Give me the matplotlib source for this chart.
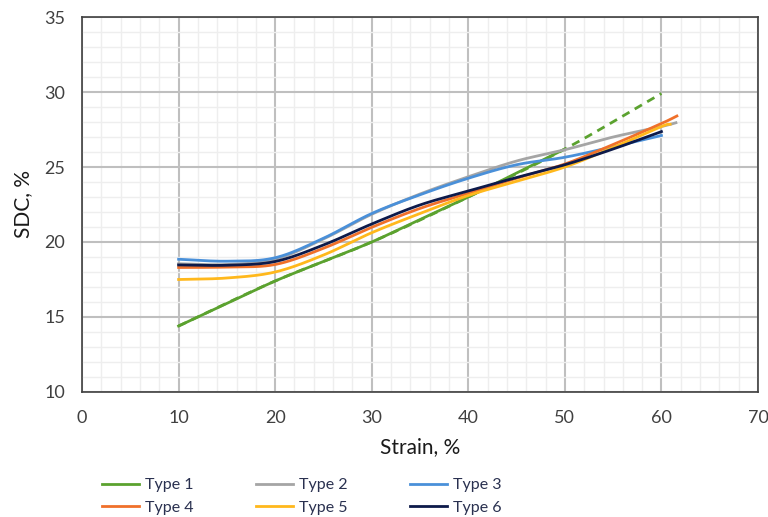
import numpy as np
import matplotlib
matplotlib.use("Agg")
import matplotlib.pyplot as plt
from matplotlib.ticker import MultipleLocator

plt.rcParams['font.family'] = ['Lato', 'DejaVu Sans']

# ---- data ----
x_std = [10, 15, 20, 25, 30, 35, 40, 45, 50, 55, 60]

type1_x = [10, 15, 20, 25, 30, 35, 40, 45, 50]
type1_y = [14.4, 15.9, 17.4, 18.7, 20.0, 21.5, 23.0, 24.6, 26.2]
trend1_x = [10, 20, 30, 40, 50, 60]
trend1_y = [14.4, 17.4, 20.0, 23.0, 26.2, 29.9]

type2_x = [10, 15, 20, 25, 30, 35, 40, 45, 50, 55, 60, 61.5]
type2_y = [18.55, 18.5, 18.85, 20.2, 21.85, 23.2, 24.35, 25.4, 26.15, 27.0, 27.7, 27.95]

type3_x = x_std
type3_y = [18.85, 18.72, 18.95, 20.25, 21.9, 23.15, 24.25, 25.15, 25.65, 26.35, 27.1]

type4_x = [10, 15, 20, 25, 30, 35, 40, 45, 50, 55, 60, 61.6]
type4_y = [18.3, 18.33, 18.5, 19.58, 20.98, 22.24, 23.25, 24.25, 25.2, 26.5, 27.9, 28.4]

type5_x = [10, 15, 20, 25, 30, 35, 40, 45, 50, 55, 60, 60.9]
type5_y = [17.5, 17.6, 18.0, 19.13, 20.62, 21.9, 23.1, 24.05, 25.0, 26.3, 27.7, 27.85]

type6_x = x_std
type6_y = [18.47, 18.45, 18.7, 19.8, 21.2, 22.47, 23.4, 24.3, 25.15, 26.2, 27.36]

labels = ["Type 1", "Type 2", "Type 3", "Type 4", "Type 5", "Type 6"]
colors = ["#5BA22F", "#A5A5A5", "#4A90D9", "#F0702A", "#FFB81C", "#0D1A4A"]


def smooth(xs, ys, n=20):
    """Catmull-Rom style smoothing of a polyline (like Excel's smoothed line)."""
    xs = np.asarray(xs, float)
    ys = np.asarray(ys, float)
    P = np.column_stack([xs, ys])
    P = np.vstack([P[0] - (P[1] - P[0]), P, P[-1] + (P[-1] - P[-2])])
    out = []
    t = np.linspace(0, 1, n, endpoint=False)
    for i in range(1, len(P) - 2):
        p0, p1, p2, p3 = P[i - 1], P[i], P[i + 1], P[i + 2]
        m1 = (p2 - p0) / 2
        m2 = (p3 - p1) / 2
        h00 = 2 * t**3 - 3 * t**2 + 1
        h10 = t**3 - 2 * t**2 + t
        h01 = -2 * t**3 + 3 * t**2
        h11 = t**3 - t**2
        seg = (h00[:, None] * p1 + h10[:, None] * m1 +
               h01[:, None] * p2 + h11[:, None] * m2)
        out.append(seg)
    out.append(P[-2][None, :])
    out = np.vstack(out)
    return out[:, 0], out[:, 1]


fig = plt.figure(figsize=(7.68, 5.17), dpi=100)
ax = fig.add_axes([0.1068, 0.2418, 0.8802, 0.7253])

series = [(type1_x, type1_y), (type2_x, type2_y), (type3_x, type3_y),
          (type4_x, type4_y), (type5_x, type5_y), (type6_x, type6_y)]

# trend line for Type 1
tx, ty = smooth(trend1_x, trend1_y)
ax.plot(tx, ty, color=colors[0], lw=2, ls=(0, (3, 2.2)), zorder=3)

handles = []
for i in range(6):
    sx, sy = smooth(*series[i])
    h, = ax.plot(sx, sy, color=colors[i], lw=2, label=labels[i], zorder=4)
    handles.append(h)

ax.set_xlim(0, 70)
ax.set_ylim(10, 35)
ax.xaxis.set_major_locator(MultipleLocator(10))
ax.xaxis.set_minor_locator(MultipleLocator(2))
ax.yaxis.set_major_locator(MultipleLocator(5))
ax.yaxis.set_minor_locator(MultipleLocator(1))
ax.grid(which='minor', color='#EEEEEE', lw=1.0, zorder=0)
ax.grid(which='major', color='#BFBFBF', lw=1.5, zorder=1)
ax.set_axisbelow(True)
ax.tick_params(which='both', length=0, labelsize=13, labelcolor='#404040')
ax.tick_params(axis='x', pad=13)
ax.tick_params(axis='y', pad=12)
for s in ax.spines.values():
    s.set_color('#404040')
    s.set_linewidth(1.2)

ax.set_xlabel("Strain, %", fontsize=15, color='#1a1a1a', labelpad=8)
ax.set_ylabel("SDC, %", fontsize=15, color='#1a1a1a', labelpad=8)

# row-major legend order: row 1 = Type 1..3, row 2 = Type 4..6
leg_order = [0, 3, 1, 4, 2, 5]
leg = fig.legend([handles[i] for i in leg_order], [labels[i] for i in leg_order],
                 ncol=3, loc='upper left',
                 bbox_to_anchor=(0.133, 0.075), bbox_transform=fig.transFigure,
                 frameon=False, fontsize=11.5, handlelength=2.3,
                 handletextpad=0.4, columnspacing=3.9, labelspacing=0.5,
                 borderaxespad=0, borderpad=0)
for t in leg.get_texts():
    t.set_color('#2A3150')

fig.savefig("out.png", dpi=100)
